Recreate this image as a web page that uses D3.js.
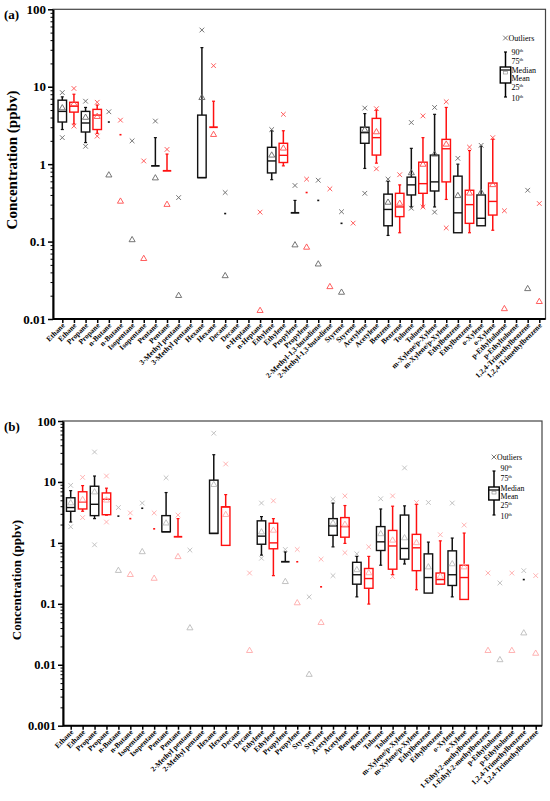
<!DOCTYPE html>
<html>
<head>
<meta charset="utf-8">
<title>VOC concentrations</title>
<script src="https://cdn.jsdelivr.net/npm/d3@7"></script>
<style>
body{margin:0;background:#fff;}
text{font-family:"Liberation Serif","Times New Roman",serif;}
</style>
</head>
<body>
<svg id="svg" width="550" height="801"></svg>
<script>
// ---- panel (a) ----
var compoundsA = ["Ethane","Propane","n-Butane","Isopentane","Pentane","3-Methyl pentane","Hexane","Decane","n-Heptane",
  "Ethylene","Propylene","2-Methyl-1,3-butadiene","Styrene","Acetylene","Benzene","Toluene","m-Xylene/p-Xylene",
  "Ethylbenzene","o-Xylene","p-Ethyltoluene","1,2,4-Trimethylbenzene"];
var seriesA = "krkrkrkrkrkrkrkrkrkrkrkrkrkrkrkrkrkrkrkrkr".split("");
seriesA[38] = "r"; seriesA[39] = "k";
// [p10, p25, median, p75, p90]
var boxA = [
  [2.8,3.5,4.8,6.7,7.4],[3.3,4.7,5.6,6.3,8.0],[1.9,2.6,3.4,4.8,5.4],[2.5,2.8,4.3,5.1,5.8],
  [3.5,3.5,3.5,3.5,3.5],[2.4,2.4,2.4,2.4,2.4],null,null,
  [0.95,0.95,0.95,0.95,2.2],[0.82,0.82,0.82,0.82,1.35],null,null,
  [0.67,0.67,0.67,4.3,32],[3.0,3.0,3.0,3.0,6.5],[0.23,0.23,0.23,0.23,0.23],null,
  null,null,[0.63,0.77,1.1,1.65,2.7],[0.95,1.05,1.3,1.86,2.7],
  [0.235,0.235,0.235,0.235,0.34],[0.43,0.43,0.43,0.43,0.43],[0.34,0.34,0.34,0.34,0.34],null,
  [0.172,0.172,0.172,0.172,0.172],null,[0.88,1.86,2.55,3.0,4.5],[1.03,1.31,2.2,3.9,5.0],
  [0.12,0.16,0.26,0.41,0.6],[0.13,0.21,0.28,0.42,0.54],[0.28,0.40,0.54,0.68,1.6],[0.28,0.42,0.56,1.06,2.2],
  [0.28,0.45,0.59,1.31,4.4],[0.35,0.59,1.58,2.09,5.4],[0.13,0.13,0.235,0.7,1.0],[0.13,0.172,0.30,0.46,1.5],
  [0.16,0.16,0.20,0.40,1.7],[0.14,0.22,0.33,0.57,2.1],null,null,null,null
];
var meanA = [5.3,6.0,4.0,4.1,0.72,0.33,0.105,0.06,0.66,0.30,0.020,null,7.2,2.4,0.036,null,null,0.0128,1.3,1.6,
  0.09,0.084,0.051,0.026,0.022,null,2.76,2.6,0.32,0.31,0.77,0.99,1.34,1.8,0.39,0.42,0.43,0.54,0.0135,null,0.0245,0.0167];
var outHiA = [8.4,9.5,6.5,6.3,4.75,3.7,2.0,1.1,3.6,1.55,0.37,null,54,18.7,0.43,null,null,0.24,2.8,4.4,
  0.53,0.64,0.62,0.48,0.243,0.173,5.3,5.2,0.64,0.73,3.45,4.2,5.4,6.4,1.19,1.66,1.75,2.2,0.25,null,0.46,0.31];
var outLoA = [2.2,3.1,1.7,2.3,null,null,null,null,null,null,null,null,null,null,null,null,null,null,null,null,
  null,null,null,null,null,null,0.42,0.87,null,null,0.27,0.28,0.24,0.15,null,null,null,null,null,null,null,null];
var yTicksA = [0.01,0.1,1,10,100];
var yLabelsA = ["0.01","0.1","1","10","100"];

// ---- panel (b) ----
var compoundsB = ["Ethane","Propane","n-Butane","Isopentane","Pentane","2-Methyl pentane","Hexane","Decane",
  "Ethylene","Propylene","Styrene","Acetylene","Benzene","Toluene","m-Xylene/p-Xylene","Ethylbenzene","o-Xylene",
  "1-Ethyl-2-methylbenzene","p-Ethyltoluene","1,2,4-Trimethylbenzene"];
var seriesB = "krkrkrkrkrkrkrkrkrkrkrkrkrkrkrkrkrkrkrkr".split("");
var boxB = [
  [2.2,3.3,3.8,5.5,7.2],[3.3,3.6,4.7,6.9,8.7],[2.5,2.8,4.3,8.5,12.5],[2.85,2.9,5.2,6.6,7.9],
  [2.75,2.75,2.75,2.75,2.75],[2.5,2.5,2.5,2.5,2.5],[3.7,3.7,3.7,3.7,3.7],[1.7,1.7,1.7,1.7,1.7],
  [1.52,1.52,1.52,2.8,6.7],[1.26,1.26,1.26,1.26,2.5],null,null,
  [1.43,1.43,1.43,10.7,28],[0.91,0.91,3.9,3.9,6.2],null,null,
  [0.63,0.95,1.29,2.3,2.7],[0.29,0.8,1.0,2.1,2.5],[0.49,0.49,0.49,0.49,0.71],[0.49,0.49,0.49,0.49,0.49],
  null,[0.19,0.19,0.19,0.19,0.19],[0.86,1.33,1.9,2.5,4.5],[0.98,1.24,1.85,2.6,4.1],
  [0.13,0.21,0.30,0.48,0.6],[0.099,0.18,0.26,0.38,0.6],[0.43,0.75,1.04,1.85,3.6],[0.30,0.37,0.89,1.6,4.0],
  [0.45,0.54,0.81,2.86,4.05],[0.17,0.35,0.83,1.38,4.3],[0.15,0.15,0.27,0.66,1.03],[0.21,0.21,0.25,0.32,1.08],
  [0.13,0.2,0.30,0.74,1.2],[0.118,0.118,0.27,0.43,1.45],null,null,
  null,null,[0.25,0.25,0.25,0.25,0.25],null
];
var meanB = [4.5,5.1,6.8,5.0,0.35,0.30,0.71,0.26,2.1,0.59,0.04,null,9,2.9,null,0.017,1.5,1.6,0.23,0.103,
  0.0069,0.049,2.1,2.0,0.36,0.32,1.4,1.1,1.2,1.0,0.4,0.28,0.45,0.4,null,0.017,0.012,0.017,0.033,0.0153];
var outHiB = [8.8,11.9,31,12.5,3.8,3.1,4.5,3.1,11.7,2.86,0.76,null,63,19.7,null,0.32,4.5,4.9,0.78,0.78,
  0.13,0.54,5.2,5.9,0.66,0.86,5.3,5.9,17,4.6,4.6,1.36,4.5,1.96,null,0.32,0.22,0.32,0.35,0.29];
var outLoB = [1.84,2.6,0.93,2.2,null,null,null,null,null,null,null,null,null,null,null,null,0.56,null,null,null,
  null,null,0.29,0.69,null,null,null,0.28,null,null,null,null,null,null,null,null,null,null,null,null];
var yTicksB = [0.001,0.01,0.1,1,10,100];
var yLabelsB = ["0.001","0.01","0.1","1","10","100"];

var legendLabels = [["Outliers",""],["90","th"],["75","th"],["Median",""],["Mean",""],["25","th"],["10","th"]];

var svg = d3.select("#svg");
var boxCol = {k:"#111", r:"#ff1010"};

function drawPanel(p){
  var n = p.labels.length;
  var x = d3.scaleLinear().domain([0, n-1]).range([p.x0, p.x1]);
  var y = d3.scaleLog().domain(p.ydom).range([p.bottom, p.top]);
  var g = svg.append("g");

  g.append("rect").attr("x", p.left).attr("y", p.top)
    .attr("width", p.right - p.left).attr("height", p.bottom - p.top)
    .attr("fill", "none").attr("stroke", "#444").attr("stroke-width", 1.2);

  // y axis
  var gy = g.append("g").attr("transform", "translate(" + p.left + ",0)")
    .call(d3.axisLeft(y).tickValues(p.yTicks).tickFormat(function(d,i){ return p.yLabels[i]; })
      .tickSize(5).tickSizeOuter(0).tickPadding(2));
  gy.select(".domain").attr("stroke-width", 2);
  gy.selectAll(".tick line").attr("stroke-width", 1.5);
  gy.selectAll("text").attr("font-family", "Liberation Serif").attr("font-weight", "bold")
    .attr("font-size", p.tickFont).attr("fill", "#000");
  var minor = [];
  p.yTicks.forEach(function(d){ for (var k = 2; k < 10; k++) if (d * k < p.ydom[1]) minor.push(d * k); });
  var gm = g.append("g").attr("transform", "translate(" + p.left + ",0)")
    .call(d3.axisLeft(y).tickValues(minor).tickSize(2.5).tickFormat(""));
  gm.select(".domain").remove();

  // x axis
  var gx = g.append("g").attr("transform", "translate(0," + p.bottom + ")")
    .call(d3.axisBottom(x).tickValues(d3.range(n)).tickFormat(function(i){ return p.labels[i]; })
      .tickSize(4).tickSizeOuter(0));
  gx.select(".domain").remove();
  gx.selectAll(".tick line").attr("stroke-width", 1.5);
  gx.selectAll("text").attr("x", 0).attr("y", 0).attr("dy", null)
    .attr("transform", "translate(2.5,7) rotate(-45)").style("text-anchor", "end")
    .attr("font-family", "Liberation Serif").attr("font-weight", "bold").attr("font-size", 7.4).attr("fill", "#000");
  g.append("line").attr("x1", p.left).attr("x2", p.right).attr("y1", p.bottom).attr("y2", p.bottom)
    .attr("stroke", "#000").attr("stroke-width", 2);

  // boxes
  var bw = p.bw;
  p.box.forEach(function(b, i){
    if (!b) return;
    var cx = x(i), c = boxCol[p.series[i]];
    var gb = g.append("g").attr("stroke", c).attr("fill", "none");
    if (b[0] === b[4]) {
      gb.append("line").attr("x1", cx - 1).attr("x2", cx + 1).attr("y1", y(b[2])).attr("y2", y(b[2])).attr("stroke-width", 1.6);
      return;
    }
    gb.append("line").attr("x1", cx).attr("x2", cx).attr("y1", y(b[3])).attr("y2", y(b[4])).attr("stroke-width", 1.5);
    gb.append("line").attr("x1", cx).attr("x2", cx).attr("y1", y(b[0])).attr("y2", y(b[1])).attr("stroke-width", 1.5);
    gb.append("line").attr("x1", cx - 1.5).attr("x2", cx + 1.5).attr("y1", y(b[4])).attr("y2", y(b[4])).attr("stroke-width", 1.2);
    if (b[0] !== b[1])
      gb.append("line").attr("x1", cx - 1.5).attr("x2", cx + 1.5).attr("y1", y(b[0])).attr("y2", y(b[0])).attr("stroke-width", 1.2);
    if (b[1] === b[3]) {
      gb.append("line").attr("x1", cx - bw / 2).attr("x2", cx + bw / 2).attr("y1", y(b[1])).attr("y2", y(b[1])).attr("stroke-width", 1.8);
    } else {
      gb.append("rect").attr("x", cx - bw / 2).attr("width", bw).attr("y", y(b[3])).attr("height", y(b[1]) - y(b[3]))
        .attr("stroke-width", 1.4).attr("fill", "#fff");
      gb.append("line").attr("x1", cx - bw / 2).attr("x2", cx + bw / 2).attr("y1", y(b[2])).attr("y2", y(b[2])).attr("stroke-width", 1.4);
    }
  });

  var tri = d3.symbol().type(d3.symbolTriangle).size(16);
  var times = d3.symbol().type(d3.symbolTimes).size(16);
  function marks(arr, sym){
    arr.forEach(function(v, i){
      if (v == null) return;
      g.append("path").attr("d", sym()).attr("transform", "translate(" + x(i) + "," + y(v) + ")")
        .attr("fill", "none").attr("stroke", p.markCol[p.series[i]]).attr("stroke-width", 0.9);
    });
  }
  marks(p.mean, tri);
  marks(p.hi, times);
  marks(p.lo, times);

  // legend
  var L = p.legend;
  var lg = g.append("g");
  lg.append("path").attr("d", times()).attr("transform", "translate(" + L.x + "," + L.yOut + ")")
    .attr("fill", "none").attr("stroke", "#666").attr("stroke-width", 0.9);
  lg.append("line").attr("x1", L.x).attr("x2", L.x).attr("y1", L.w1).attr("y2", L.b1).attr("stroke", "#000").attr("stroke-width", 1.5);
  lg.append("line").attr("x1", L.x).attr("x2", L.x).attr("y1", L.b2).attr("y2", L.w2).attr("stroke", "#000").attr("stroke-width", 1.5);
  lg.append("line").attr("x1", L.x - 1.5).attr("x2", L.x + 1.5).attr("y1", L.w1).attr("y2", L.w1).attr("stroke", "#000").attr("stroke-width", 1.2);
  lg.append("line").attr("x1", L.x - 1.5).attr("x2", L.x + 1.5).attr("y1", L.w2).attr("y2", L.w2).attr("stroke", "#000").attr("stroke-width", 1.2);
  lg.append("rect").attr("x", L.x - bw / 2 - 1).attr("width", bw + 2).attr("y", L.b1).attr("height", L.b2 - L.b1)
    .attr("fill", "#fff").attr("stroke", "#000").attr("stroke-width", 1.4);
  lg.append("line").attr("x1", L.x - bw / 2 - 1).attr("x2", L.x + bw / 2 + 1).attr("y1", L.b1 + 3).attr("y2", L.b1 + 3)
    .attr("stroke", "#000").attr("stroke-width", 1.2);
  lg.append("rect").attr("x", L.x - 2).attr("y", L.b1 + 4.5).attr("width", 4).attr("height", 2.5)
    .attr("fill", "none").attr("stroke", "#888").attr("stroke-width", 0.6);
  legendLabels.forEach(function(t, i){
    var tx = lg.append("text").attr("x", i === 0 ? L.x + 3 : L.tx).attr("y", L.ty[i])
      .attr("font-size", L.fs).attr("fill", "#000").text(t[0]);
    if (t[1]) tx.append("tspan").attr("font-size", L.fs * 0.6).attr("dy", -L.fs * 0.35).text(t[1]);
  });

  // titles
  g.append("text").attr("x", 4).attr("y", p.top + 10).attr("font-weight", "bold").attr("font-size", 13).text(p.tag);
  g.append("text").attr("transform", "translate(" + p.titleX + "," + p.titleY + ") rotate(-90)")
    .attr("text-anchor", "middle").attr("font-weight", "bold").attr("font-size", p.titleFont)
    .text("Concentration (ppbv)");
}

function doubled(list){ var out = []; list.forEach(function(c){ out.push(c, c); }); return out; }

drawPanel({
  tag: "(a)", labels: doubled(compoundsA), series: seriesA, box: boxA, mean: meanA, hi: outHiA, lo: outLoA,
  yTicks: yTicksA, yLabels: yLabelsA, ydom: [0.01, 100],
  left: 53, right: 545.5, top: 9.3, bottom: 319, x0: 62.3, x1: 539.3, bw: 8.5, tickFont: 13,
  titleX: 17, titleY: 160, titleFont: 15,
  markCol: {k: "#666", r: "#ff4d4d"},
  legend: {x: 505.5, yOut: 38, w1: 52, b1: 67, b2: 83, w2: 97, tx: 511.5, fs: 8,
    ty: [41, 54.5, 63.5, 72.5, 81, 89.5, 100.5]}
});
drawPanel({
  tag: "(b)", labels: doubled(compoundsB), series: seriesB, box: boxB, mean: meanB, hi: outHiB, lo: outLoB,
  yTicks: yTicksB, yLabels: yLabelsB, ydom: [0.001, 100],
  left: 63, right: 542, top: 421, bottom: 725.7, x0: 70.7, x1: 535.7, bw: 8.5, tickFont: 12.5,
  titleX: 21, titleY: 580, titleFont: 13,
  markCol: {k: "#bbb", r: "#ffaaaa"},
  legend: {x: 494, yOut: 457, w1: 471, b1: 487, b2: 500, w2: 515, tx: 500.5, fs: 7.8,
    ty: [460, 471, 481, 490.5, 499, 507.5, 519]}
});
</script>
</body>
</html>
